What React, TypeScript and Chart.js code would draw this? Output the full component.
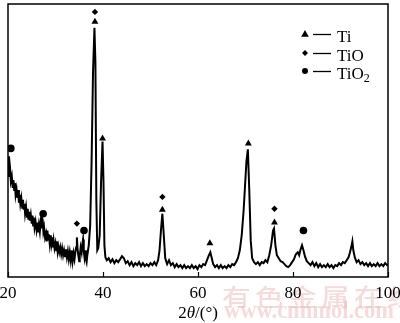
import { useEffect, useRef } from "react";
import { Chart, registerables } from "chart.js";

Chart.register(...registerables);

const FONT = '"Liberation Serif", "Times New Roman", serif';

// XRD pattern: 2θ (degrees) and intensity (arbitrary units)
const twoTheta = [
  20.0, 20.2, 20.4, 20.6, 20.8, 21.0, 21.15, 21.3, 21.45, 21.6, 21.8, 22.0, 22.15, 22.3, 22.45, 22.6, 22.8,
  23.0, 23.15, 23.3, 23.45, 23.6, 23.8, 24.0, 24.15, 24.3, 24.45, 24.6, 24.8, 25.0, 25.15, 25.3, 25.45,
  25.6, 25.8, 26.0, 26.15, 26.3, 26.5, 26.7, 26.85, 27.0, 27.15, 27.3, 27.45, 27.6, 27.8, 28.0, 28.15,
  28.3, 28.45, 28.6, 28.8, 29.0, 29.15, 29.3, 29.45, 29.6, 29.8, 30.0, 30.15, 30.3, 30.45, 30.6, 30.8,
  31.0, 31.2, 31.4, 31.6, 31.8, 32.0, 32.2, 32.4, 32.6, 32.8, 33.0, 33.2, 33.4, 33.6, 33.8, 34.0, 34.2,
  34.35, 34.5, 34.65, 34.8, 35.0, 35.1, 35.3, 35.5, 35.65, 35.8, 35.95, 36.1, 36.25, 36.4, 36.55, 36.7,
  37.0, 37.3, 37.6, 37.9, 38.2, 38.4, 38.6, 38.8, 39.0, 39.3, 39.6, 39.9, 40.1, 40.3, 40.5, 40.8,
  41.2, 41.6, 42.0, 42.4, 42.8, 43.2, 43.6, 44.0, 44.4, 44.8, 45.2, 45.6, 46.0, 46.4, 46.8, 47.2, 47.6,
  48.0, 48.4, 48.8, 49.2, 49.6, 50.0, 50.4, 50.8, 51.2, 51.6, 51.9, 52.2, 52.5, 52.8, 53.1, 53.5, 53.9,
  54.3, 54.7, 55.1, 55.5, 55.9, 56.3, 56.7, 57.1, 57.5, 57.9, 58.3, 58.7, 59.1, 59.5, 59.9, 60.3, 60.7,
  61.1, 61.5, 61.9, 62.3, 62.6, 62.9, 63.2, 63.6, 64.0, 64.4, 64.8, 65.2, 65.6, 66.0, 66.4, 66.8, 67.2,
  67.6, 68.0, 68.4, 68.8, 69.2, 69.6, 69.9, 70.2, 70.5, 70.8, 71.1, 71.4, 71.8, 72.2, 72.6, 73.0, 73.4,
  73.8, 74.2, 74.6, 75.0, 75.4, 75.8, 76.0, 76.3, 76.6, 77.0, 77.4, 77.8, 78.2, 78.6, 79.0, 79.4, 79.8,
  80.2, 80.6, 81.0, 81.3, 81.6, 81.9, 82.2, 82.5, 82.9, 83.3, 83.7, 84.1, 84.5, 84.9, 85.3, 85.7, 86.1,
  86.5, 86.9, 87.3, 87.7, 88.1, 88.5, 88.9, 89.3, 89.7, 90.1, 90.5, 90.9, 91.3, 91.7, 92.0, 92.3, 92.5,
  92.7, 93.0, 93.4, 93.8, 94.2, 94.6, 95.0, 95.4, 95.8, 96.2, 96.6, 97.0, 97.4, 97.8, 98.2, 98.6, 99.0,
  99.4, 99.8, 100.0,
];

const intensity = [
  102, 122, 112, 97, 102, 90, 98, 88, 95, 83, 89, 80, 88, 75, 83, 74, 80,
  70, 78, 68, 74, 64, 71, 61, 69, 58, 66, 57, 63, 54, 62, 52, 60,
  50, 56, 48, 55, 45, 53, 46, 55, 50, 60, 58, 46, 50, 40, 44, 36,
  47, 38, 43, 33, 42, 34, 40, 30, 37, 29, 34, 27, 36, 26, 31, 25,
  30, 23, 29, 22, 27, 21, 28, 20, 26, 18, 25, 17, 27, 16, 24, 18, 26,
  30, 40, 28, 22, 16, 21, 30, 25, 33, 38, 26, 20, 27, 18, 15, 22,
  32, 52, 117, 207, 252, 217, 77, 27, 29, 42, 97, 137, 97, 32, 20, 17,
  19, 15, 18, 14, 17, 15, 18, 21, 19, 14, 16, 12, 15, 11, 14, 12, 15,
  11, 14, 11, 13, 11, 14, 12, 15, 12, 17, 27, 47, 64, 42, 19, 13, 17,
  12, 14, 10, 13, 10, 12, 9, 12, 9, 11, 9, 12, 9, 11, 8, 12, 10,
  13, 12, 17, 22, 25, 19, 13, 10, 12, 9, 12, 9, 11, 9, 12, 10, 13,
  12, 15, 19, 27, 42, 67, 92, 117, 129, 87, 37, 19, 15, 13, 15, 12, 15,
  14, 17, 15, 22, 32, 47, 49, 32, 22, 19, 16, 15, 13, 11, 10, 12, 15,
  18, 23, 25, 22, 28, 32, 27, 21, 16, 14, 12, 15, 11, 14, 10, 13, 10,
  12, 10, 13, 10, 12, 9, 12, 11, 14, 12, 15, 14, 17, 20, 25, 31, 36,
  27, 20, 15, 17, 13, 15, 12, 14, 11, 14, 11, 13, 11, 14, 11, 13, 11,
  14, 12, 13,
];

// Phase markers placed above peaks
const tiPeaks = [38.3, 39.9, 52.5, 62.5, 70.6, 76.1];
const tiLevels = [258, 140, 68, 34, 135, 55];
const tioPeaks = [34.5, 38.3, 52.5, 76.1];
const tioLevels = [54, 268, 81, 69];
const tio2Peaks = [20.6, 27.4, 36.0, 82.2];
const tio2Levels = [130, 64, 47, 47];

const xTicks = [20, 40, 60, 80, 100];
const legendLabels = ["Ti", "TiO", "TiO"];

function drawMarker(ctx: CanvasRenderingContext2D, kind: string, x: number, y: number, r: number) {
  ctx.beginPath();
  if (kind === "tri") {
    ctx.moveTo(x, y - r);
    ctx.lineTo(x + r * 0.95, y + r * 0.7);
    ctx.lineTo(x - r * 0.95, y + r * 0.7);
    ctx.closePath();
  } else if (kind === "dia") {
    ctx.moveTo(x, y - r);
    ctx.lineTo(x + r, y);
    ctx.lineTo(x, y + r);
    ctx.lineTo(x - r, y);
    ctx.closePath();
  } else {
    ctx.arc(x, y, r, 0, Math.PI * 2);
  }
  ctx.fill();
}

const decorPlugin = {
  id: "decor",
  beforeDraw(chart: any) {
    const ctx: CanvasRenderingContext2D = chart.ctx;
    ctx.save();
    ctx.fillStyle = "rgba(232, 175, 175, 0.45)";
    ctx.textBaseline = "alphabetic";
    ctx.textAlign = "left";
    const wm = "有色金属在线";
    ctx.font = '500 26px "Noto Sans CJK SC", sans-serif';
    for (let i = 0; i < wm.length; i++) {
      ctx.save();
      ctx.translate(222 + i * 33, 306);
      ctx.scale(1.1, 0.9);
      ctx.fillText(wm[i], 0, 0);
      ctx.restore();
    }
    ctx.save();
    ctx.translate(224, 318);
    ctx.scale(0.9, 1);
    ctx.font = "bold 25px " + FONT;
    ctx.fillText("www.cnnmol.com", 0, 0);
    ctx.restore();
    ctx.restore();
  },
  afterDraw(chart: any) {
    const ctx: CanvasRenderingContext2D = chart.ctx;
    const { left, right, top, bottom } = chart.chartArea;
    const xs = chart.scales.x;
    ctx.save();
    ctx.strokeStyle = "#000";
    ctx.lineWidth = 1.5;
    ctx.strokeRect(left, top, right - left, bottom - top);
    // inward ticks
    ctx.lineWidth = 1.2;
    xTicks.forEach((t) => {
      const px = Math.round(xs.getPixelForValue(t)) + 0.5;
      ctx.beginPath();
      ctx.moveTo(px, bottom);
      ctx.lineTo(px, bottom - 5);
      ctx.stroke();
    });

    // legend
    ctx.fillStyle = "#000";
    const kinds = ["tri", "dia", "dot"];
    const rowY = [34, 53, 71];
    const sizes = [4, 3, 3];
    ctx.font = "17px " + FONT;
    ctx.textBaseline = "alphabetic";
    ctx.textAlign = "left";
    for (let i = 0; i < 3; i++) {
      const y = rowY[i];
      drawMarker(ctx, kinds[i], 305, y, sizes[i]);
      ctx.lineWidth = 1.3;
      ctx.beginPath();
      ctx.moveTo(313, y + 0.5);
      ctx.lineTo(331, y + 0.5);
      ctx.stroke();
      ctx.fillText(legendLabels[i], 337, y + 8);
    }
    const w = ctx.measureText("TiO").width;
    ctx.font = "12px " + FONT;
    ctx.fillText("2", 337 + w, 71 + 11);

    // axis title 2θ/(°)
    ctx.font = "17px " + FONT;
    const p1 = "2";
    const p3 = "/(°)";
    const w1 = ctx.measureText(p1).width;
    const w3 = ctx.measureText(p3).width;
    ctx.font = "italic 17px " + FONT;
    const w2 = ctx.measureText("θ").width;
    const total = w1 + w2 + w3;
    const x0 = (left + right) / 2 - total / 2;
    const by = 318;
    ctx.font = "17px " + FONT;
    ctx.fillText(p1, x0, by);
    ctx.font = "italic 17px " + FONT;
    ctx.fillText("θ", x0 + w1, by);
    ctx.font = "17px " + FONT;
    ctx.fillText(p3, x0 + w1 + w2, by);
    ctx.restore();
  },
};

export default function App() {
  const ref = useRef<HTMLCanvasElement>(null);
  useEffect(() => {
    if (!ref.current) return;
    const pattern = twoTheta.map((x, i) => ({ x, y: intensity[i] }));
    const mk = (xs: number[], ys: number[]) => xs.map((x, i) => ({ x, y: ys[i] }));
    const chart = new Chart(ref.current, {
      type: "scatter",
      data: {
        datasets: [
          {
            label: "XRD",
            data: pattern,
            showLine: true,
            borderColor: "#000",
            borderWidth: 2,
            pointRadius: 0,
            tension: 0,
          },
          {
            label: "Ti",
            data: mk(tiPeaks, tiLevels),
            pointStyle: "triangle",
            pointRadius: 4,
            backgroundColor: "#000",
            borderColor: "#000",
            borderWidth: 0,
          },
          {
            label: "TiO",
            data: mk(tioPeaks, tioLevels),
            pointStyle: "rectRot",
            pointRadius: 3.2,
            backgroundColor: "#000",
            borderColor: "#000",
            borderWidth: 0,
          },
          {
            label: "TiO2",
            data: mk(tio2Peaks, tio2Levels),
            pointStyle: "circle",
            pointRadius: 3.8,
            backgroundColor: "#000",
            borderColor: "#000",
            borderWidth: 0,
          },
        ],
      },
      options: {
        animation: false,
        responsive: true,
        maintainAspectRatio: false,
        layout: { padding: { left: 8, right: 12, top: 1, bottom: 0 } },
        plugins: { legend: { display: false }, tooltip: { enabled: false }, title: { display: false } },
        scales: {
          x: {
            type: "linear",
            min: 20,
            max: 100,
            grid: { display: false, drawTicks: false },
            border: { display: false },
            ticks: {
              stepSize: 20,
              color: "#000",
              padding: 6,
              maxRotation: 0,
              font: { family: FONT, size: 17 },
            },
            afterFit: (s: any) => {
              s.height = 46;
              s.paddingLeft = 0;
              s.paddingRight = 0;
            },
          },
          y: {
            display: false,
            min: 0,
            max: 276,
          },
        },
      },
      plugins: [decorPlugin],
    });
    return () => chart.destroy();
  }, []);
  return (
    <div style={{ position: "absolute", left: 0, top: 0, width: 400, height: 323, background: "#fff" }}>
      <canvas ref={ref} />
    </div>
  );
}
